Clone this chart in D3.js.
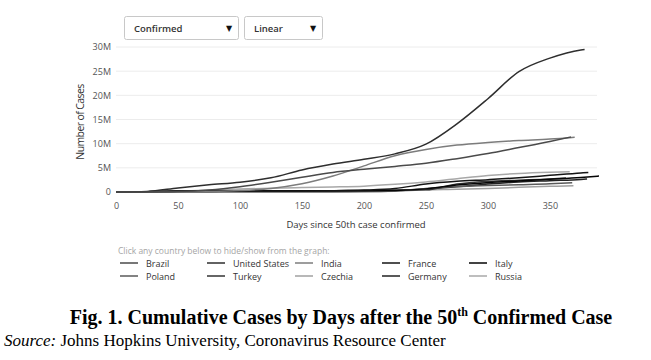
<!DOCTYPE html>
<html>
<head>
<meta charset="utf-8">
<script src="https://cdn.jsdelivr.net/npm/d3@7"></script>
<style>
  body { margin: 0; background: #fff; }
  svg { display: block; }
</style>
</head>
<body>
<svg id="chart" width="651" height="360"></svg>
<script>
// ------------------------------
// Data (cumulative confirmed cases, millions)
// sampled every 25 days since the 50th case; last point = last day of series
// ------------------------------
const days = [0, 25, 50, 75, 100, 125, 150, 175, 200, 225, 250, 275, 300, 325, 350, 375];

const countries = ["Brazil", "United States", "India", "France", "Italy",
                   "Poland", "Turkey", "Czechia", "Germany", "Russia"];

const lastDays = [367, 378, 370, 381, 390, 368, 363, 369, 380, 366];

const brazil = [0, 0.014, 0.1, 0.41, 1.08, 2.01, 3.06, 4.05, 4.7, 5.3, 5.95, 6.9, 7.96, 9.2, 10.45, 11.4];
const unitedStates = [0, 0.12, 0.84, 1.49, 2.02, 2.93, 4.56, 5.78, 6.77, 7.89, 9.9, 14.1, 19.3, 24.9, 27.7, 29.4, 29.5];
const india = [0, 0.001, 0.022, 0.1, 0.3, 0.74, 1.7, 3.3, 5.4, 7.5, 8.8, 9.7, 10.25, 10.65, 10.95, 11.35];
const france = [0, 0.025, 0.15, 0.18, 0.19, 0.2, 0.22, 0.27, 0.4, 0.72, 1.66, 2.22, 2.56, 2.95, 3.45, 3.95, 4.05];
const italy = [0, 0.041, 0.16, 0.217, 0.234, 0.24, 0.245, 0.254, 0.283, 0.33, 0.647, 1.43, 1.93, 2.3, 2.64, 3.0, 3.3];
const poland = [0, 0.005, 0.013, 0.022, 0.032, 0.039, 0.052, 0.069, 0.09, 0.23, 0.72, 1.12, 1.34, 1.52, 1.7, 1.92];
const turkey = [0, 0.052, 0.131, 0.164, 0.195, 0.22, 0.248, 0.283, 0.322, 0.37, 0.45, 1.65, 2.2, 2.45, 2.7, 2.9];
const czechia = [0, 0.004, 0.0075, 0.009, 0.01, 0.013, 0.018, 0.024, 0.055, 0.18, 0.45, 0.56, 0.74, 0.97, 1.17, 1.3];
const germany = [0, 0.043, 0.147, 0.175, 0.186, 0.197, 0.209, 0.234, 0.268, 0.33, 0.64, 1.08, 1.63, 2.07, 2.34, 2.6, 2.68];
const russia = [0, 0.013, 0.166, 0.405, 0.613, 0.78, 0.91, 1.03, 1.2, 1.58, 2.09, 2.76, 3.4, 3.85, 4.1, 4.2];

const seriesValues = [brazil, unitedStates, india, france, italy, poland, turkey, czechia, germany, russia];
const lineColors = ["#4a4a4a", "#2e2e2e", "#7c7c7c", "#151515", "#050505",
                    "#5a5a5a", "#333333", "#a0a0a0", "#222222", "#a8a8a8"];

const xTicks = [0, 50, 100, 150, 200, 250, 300, 350];
const yTicks = [0, 5, 10, 15, 20, 25, 30];
const dropdowns = ["Confirmed", "Linear"];

// ------------------------------
// Build points for each country
// ------------------------------
const series = countries.map((name, i) => {
  const vals = seriesValues[i];
  const pts = [];
  vals.forEach((v, j) => {
    const d = j < vals.length - 1 ? days[j] : lastDays[i];
    if (j < vals.length - 1 && days[j] >= lastDays[i]) return;
    pts.push({ day: d, value: v });
  });
  return { name, color: lineColors[i], points: pts };
});

// ------------------------------
// Chart
// ------------------------------
const svg = d3.select("#chart");
const font = "'Open Sans', sans-serif";

const x = d3.scaleLinear().domain([0, 388]).range([116, 597]);
const y = d3.scaleLinear().domain([0, 30]).range([192, 47]);

// Dropdown boxes
const boxes = [{ x: 124, w: 114 }, { x: 244, w: 78 }];
boxes.forEach((b, i) => {
  const g = svg.append("g");
  g.append("rect")
    .attr("x", b.x + 0.5).attr("y", 16.5)
    .attr("width", b.w).attr("height", 23)
    .attr("rx", 2)
    .attr("fill", "#fff").attr("stroke", "#c8c8c8");
  g.append("text")
    .attr("x", b.x + 10).attr("y", 31.5)
    .attr("font-family", font).attr("font-size", 9.5)
    .attr("font-weight", 600).attr("fill", "#333")
    .text(dropdowns[i]);
  g.append("text")
    .attr("x", b.x + b.w - 9).attr("y", 31)
    .attr("text-anchor", "middle")
    .attr("font-family", "DejaVu Sans").attr("font-size", 8)
    .attr("fill", "#111")
    .text("▼");
});

// Grid lines
svg.append("g")
  .selectAll("line")
  .data(yTicks.slice(1))
  .join("line")
  .attr("x1", 116).attr("x2", 597)
  .attr("y1", (d) => y(d)).attr("y2", (d) => y(d))
  .attr("stroke", "#ececec").attr("stroke-width", 1);

// Y axis
const yAxis = svg.append("g")
  .attr("transform", "translate(116,0)")
  .call(d3.axisLeft(y).tickValues(yTicks).tickSize(0).tickPadding(5)
    .tickFormat((d) => (d === 0 ? "0" : d + "M")));
yAxis.select(".domain").remove();
yAxis.selectAll("text").attr("font-family", font).attr("font-size", 9).attr("fill", "#555");

// X axis
const xAxis = svg.append("g")
  .attr("transform", "translate(0,192)")
  .call(d3.axisBottom(x).tickValues(xTicks).tickSize(0).tickPadding(11));
xAxis.select(".domain").remove();
xAxis.selectAll("text").attr("font-family", font).attr("font-size", 9).attr("fill", "#555");

// Axis titles
svg.append("text")
  .attr("transform", "translate(84,122) rotate(-90)")
  .attr("text-anchor", "middle")
  .attr("font-family", font).attr("font-size", 10.5)
  .attr("letter-spacing", -0.6)
  .attr("fill", "#333")
  .text("Number of Cases");

svg.append("text")
  .attr("x", 356).attr("y", 228)
  .attr("text-anchor", "middle")
  .attr("font-family", font).attr("font-size", 9.5)
  .attr("fill", "#333")
  .text("Days since 50th case confirmed");

// Lines
svg.append("clipPath").attr("id", "plotClip")
  .append("rect").attr("x", 110).attr("y", 40).attr("width", 489).attr("height", 160);

const line = d3.line()
  .x((d) => x(d.day))
  .y((d) => y(d.value))
  .curve(d3.curveMonotoneX);

svg.append("g")
  .attr("clip-path", "url(#plotClip)")
  .selectAll("path")
  .data(series.slice().reverse())
  .join("path")
  .attr("d", (d) => line(d.points))
  .attr("fill", "none")
  .attr("stroke", (d) => d.color)
  .attr("stroke-width", 1.5);

// Legend
svg.append("text")
  .attr("x", 118).attr("y", 254)
  .attr("font-family", font).attr("font-size", 8.5)
  .attr("fill", "#a5a5a5")
  .text("Click any country below to hide/show from the graph:");

const legendCols = [120, 207, 295, 382, 469];
const legend = svg.append("g")
  .selectAll("g")
  .data(series)
  .join("g")
  .attr("transform", (d, i) => `translate(${legendCols[i % 5]},${i < 5 ? 263 : 276})`);

legend.append("line")
  .attr("x1", 0).attr("x2", 18)
  .attr("stroke", (d) => d.color).attr("stroke-width", 1.5);

legend.append("text")
  .attr("x", 26).attr("y", 3.5)
  .attr("font-family", font).attr("font-size", 9)
  .attr("fill", "#333")
  .text((d) => d.name);

// Caption
const caption = svg.append("text")
  .attr("x", 341).attr("y", 324)
  .attr("text-anchor", "middle")
  .attr("font-family", "'Liberation Serif', serif").attr("font-size", 20)
  .attr("font-weight", "bold").attr("fill", "#000");
caption.append("tspan").text("Fig. 1. Cumulative Cases by Days after the 50");
caption.append("tspan").attr("font-size", 12).attr("dy", -8).text("th");
caption.append("tspan").attr("dy", 8).text(" Confirmed Case");

const source = svg.append("text")
  .attr("x", 4).attr("y", 346)
  .attr("font-family", "'Liberation Serif', serif").attr("font-size", 17)
  .attr("fill", "#000");
source.append("tspan").attr("font-style", "italic").text("Source:");
source.append("tspan").text(" Johns Hopkins University, Coronavirus Resource Center");
</script>
</body>
</html>
